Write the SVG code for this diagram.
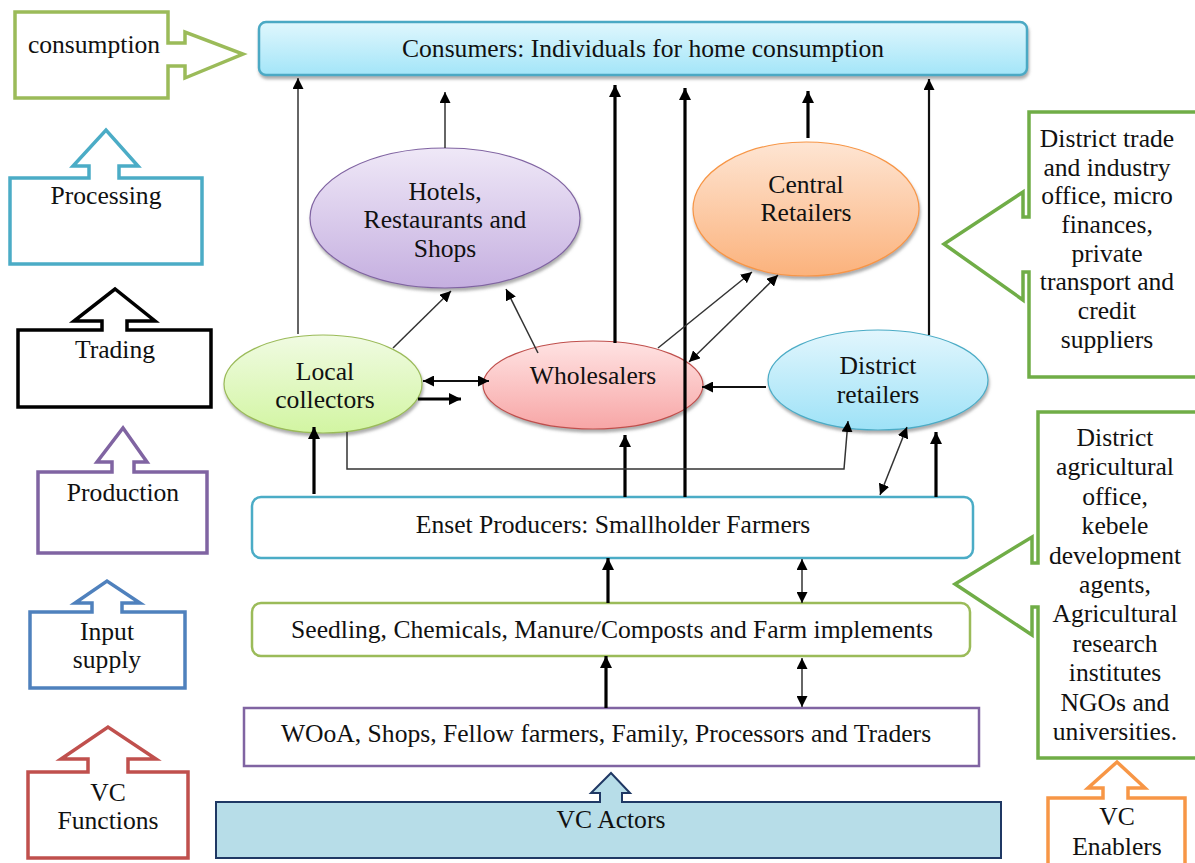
<svg xmlns="http://www.w3.org/2000/svg" width="1195" height="863" viewBox="0 0 1195 863">
<defs>
<style>
text{font-family:"Liberation Serif","Times New Roman",serif;font-size:25.6px;fill:#111;text-anchor:middle}
.fn{fill:#fff;stroke-width:3.5;stroke-linejoin:miter}
.thin{stroke:#333;stroke-width:1.5;fill:none}
.med{stroke:#111;stroke-width:2.2;fill:none}
.thick{stroke:#000;stroke-width:3.2;fill:none}
.ell{stroke-width:1.2}
</style>
<marker id="ah" viewBox="0 0 10 10" refX="10" refY="5" markerWidth="12" markerHeight="12" markerUnits="userSpaceOnUse" orient="auto-start-reverse"><path d="M0,0 L10,5 L0,10 z" fill="#000"/></marker>
<marker id="ahs" viewBox="0 0 10 10" refX="10" refY="5" markerWidth="11" markerHeight="11" markerUnits="userSpaceOnUse" orient="auto-start-reverse"><path d="M0,0 L10,5 L0,10 z" fill="#000"/></marker>
<linearGradient id="gCons" x1="0" y1="0" x2="0" y2="1"><stop offset="0" stop-color="#e0f7fd"/><stop offset="1" stop-color="#a3e5f8"/></linearGradient>
<linearGradient id="gHot" x1="0" y1="0" x2="0" y2="1"><stop offset="0" stop-color="#efe8f7"/><stop offset="1" stop-color="#c5afe0"/></linearGradient>
<linearGradient id="gCen" x1="0" y1="0" x2="0" y2="1"><stop offset="0" stop-color="#fee5d3"/><stop offset="1" stop-color="#fbb27c"/></linearGradient>
<linearGradient id="gWho" x1="0" y1="0" x2="0" y2="1"><stop offset="0" stop-color="#ffe3e3"/><stop offset="1" stop-color="#f7a6a6"/></linearGradient>
<linearGradient id="gLoc" x1="0" y1="0" x2="0" y2="1"><stop offset="0" stop-color="#f0fbe2"/><stop offset="1" stop-color="#d2f5a2"/></linearGradient>
<linearGradient id="gDis" x1="0" y1="0" x2="0" y2="1"><stop offset="0" stop-color="#e2f6fd"/><stop offset="1" stop-color="#9ee2f7"/></linearGradient>
<filter id="sh" x="-10%" y="-10%" width="120%" height="130%"><feDropShadow dx="1" dy="3" stdDeviation="1.5" flood-color="#777" flood-opacity="0.6"/></filter>
</defs>

<!-- Left: VC functions -->
<g id="fn-consumption">
<path class="fn" stroke="#9bbb59" d="M15,12 H168 V43 H185 V32 L243,54 L185,78 V66 H168 V98 H15 Z"/>
<text x="94" y="53">consumption</text>
</g>
<g id="fn-processing">
<path class="fn" stroke="#4bacc6" d="M10,178 H89 V166 H73 L106,130 L138,166 H119 V178 H202 V264 H10 Z"/>
<text x="106" y="204">Processing</text>
</g>
<g id="fn-trading">
<path class="fn" stroke="#000" stroke-width="4" d="M18,330 H102 V321 H74 L115,289 L155,321 H127 V330 H211 V407 H18 Z"/>
<text x="115" y="358">Trading</text>
</g>
<g id="fn-production">
<path class="fn" stroke="#8064a2" d="M38,472 H112 V462 H97 L123,428 L147,462 H134 V472 H207 V553 H38 Z"/>
<text x="123" y="501">Production</text>
</g>
<g id="fn-input">
<path class="fn" stroke="#4f81bd" d="M30,612 H92 V603 H75 L107,581 L140,603 H122 V612 H185 V688 H30 Z"/>
<text x="107" y="640">Input</text>
<text x="107" y="668">supply</text>
</g>
<g id="fn-vcfunctions">
<path class="fn" stroke="#c0504d" d="M28,772 H88 V759 H61 L108,727 L156,759 H128 V772 H188 V858 H28 Z"/>
<text x="108" y="801">VC</text>
<text x="108" y="829">Functions</text>
</g>

<!-- Right: enablers -->
<g id="en-trade">
<path class="fn" stroke="#70ad47" d="M1029,112 H1199 V377 H1029 V272 H1023 V300 L944,244 L1023,192 V217 H1029 Z"/>
<text x="1107" y="147">District trade</text>
<text x="1107" y="176">and industry</text>
<text x="1107" y="204">office, micro</text>
<text x="1107" y="233">finances,</text>
<text x="1107" y="262">private</text>
<text x="1107" y="290">transport and</text>
<text x="1107" y="319">credit</text>
<text x="1107" y="348">suppliers</text>
</g>
<g id="en-agri">
<path class="fn" stroke="#70ad47" d="M1038,412 H1199 V758 H1038 V607 H1032 V635 L955,584 L1032,537 V563 H1038 Z"/>
<text x="1115" y="446">District</text>
<text x="1115" y="475">agricultural</text>
<text x="1115" y="505">office,</text>
<text x="1115" y="534">kebele</text>
<text x="1115" y="564">development</text>
<text x="1115" y="593">agents,</text>
<text x="1115" y="622">Agricultural</text>
<text x="1115" y="652">research</text>
<text x="1115" y="681">institutes</text>
<text x="1115" y="711">NGOs and</text>
<text x="1115" y="740">universities.</text>
</g>
<g id="en-vcenablers">
<path class="fn" stroke="#f79646" d="M1048,798 H1103 V788 H1088 L1117,762 L1145,788 H1128 V798 H1185 V872 H1048 Z"/>
<text x="1117" y="825">VC</text>
<text x="1117" y="855">Enablers</text>
</g>

<!-- VC actors -->
<g id="vc-actors">
<rect x="216" y="802" width="785" height="56" fill="#b7dde8" stroke="#1f3864" stroke-width="2"/>
<path d="M600,803 V793 H591 L611,773 L630,793 H622 V803" fill="#b7dde8" stroke="#1f3864" stroke-width="2"/>
<text x="611" y="828">VC Actors</text>
</g>

<!-- Main nodes -->
<g id="consumers">
<rect x="259" y="22" width="768" height="53" rx="7" fill="url(#gCons)" stroke="#4ba9c4" stroke-width="2.5" filter="url(#sh)"/>
<text x="643" y="57">Consumers: Individuals for home consumption</text>
</g>
<g id="hotels">
<ellipse cx="445" cy="218" rx="135" ry="70" fill="url(#gHot)" stroke="#8064a2" class="ell" filter="url(#sh)"/>
<text x="445" y="200">Hotels,</text>
<text x="445" y="228">Restaurants and</text>
<text x="445" y="257">Shops</text>
</g>
<g id="central-retailers">
<ellipse cx="806" cy="209" rx="113" ry="67" fill="url(#gCen)" stroke="#f79646" class="ell" filter="url(#sh)"/>
<text x="806" y="193">Central</text>
<text x="806" y="221">Retailers</text>
</g>
<g id="local-collectors">
<ellipse cx="323" cy="384" rx="99" ry="49" fill="url(#gLoc)" stroke="#9bbb59" class="ell" filter="url(#sh)"/>
<text x="325" y="380">Local</text>
<text x="325" y="408">collectors</text>
</g>
<g id="wholesalers">
<ellipse cx="593" cy="385" rx="110" ry="44" fill="url(#gWho)" stroke="#c0504d" class="ell" filter="url(#sh)"/>
<text x="593" y="384">Wholesalers</text>
</g>
<g id="district-retailers">
<ellipse cx="878" cy="380" rx="110" ry="50" fill="url(#gDis)" stroke="#4bacc6" class="ell" filter="url(#sh)"/>
<text x="878" y="374">District</text>
<text x="878" y="403">retailers</text>
</g>
<g id="enset-producers">
<rect x="252" y="497" width="721" height="61" rx="9" fill="#fff" stroke="#4bacc6" stroke-width="2.5"/>
<text x="613" y="533">Enset Producers: Smallholder Farmers</text>
</g>
<g id="inputs">
<rect x="252" y="603" width="718" height="53" rx="9" fill="#fff" stroke="#9bbb59" stroke-width="2.5"/>
<text x="612" y="638">Seedling, Chemicals, Manure/Composts and Farm implements</text>
</g>
<g id="suppliers">
<rect x="244" y="708" width="735" height="58" fill="#fff" stroke="#8064a2" stroke-width="2.5"/>
<text x="606" y="742">WOoA, Shops, Fellow farmers, Family, Processors and Traders</text>
</g>

<!-- Connectors -->
<g id="connectors">
<line class="thin" x1="298" y1="334" x2="298" y2="78" marker-end="url(#ahs)"/>
<line class="thin" x1="445" y1="148" x2="445" y2="92" marker-end="url(#ahs)"/>
<line class="thick" x1="615" y1="343" x2="615" y2="85" marker-end="url(#ah)"/>
<line class="thick" x1="685" y1="497" x2="685" y2="88" marker-end="url(#ah)"/>
<line class="thick" x1="808" y1="138" x2="808" y2="91" marker-end="url(#ah)"/>
<line class="med" x1="929" y1="335" x2="929" y2="79" marker-end="url(#ahs)"/>
<line class="thin" x1="393" y1="348" x2="451" y2="291" marker-end="url(#ahs)"/>
<line class="thin" x1="538" y1="353" x2="506" y2="289" marker-end="url(#ahs)"/>
<line class="thin" x1="658" y1="348" x2="752" y2="272" marker-end="url(#ahs)"/>
<line class="thin" x1="689" y1="362" x2="778" y2="275" marker-start="url(#ahs)" marker-end="url(#ahs)"/>
<line class="med" x1="423" y1="381" x2="489" y2="381" marker-start="url(#ahs)" marker-end="url(#ahs)"/>
<line class="thick" x1="418" y1="399" x2="461" y2="399" marker-end="url(#ah)"/>
<line class="med" x1="766" y1="387" x2="702" y2="387" marker-end="url(#ahs)"/>
<line class="thick" x1="314" y1="494" x2="314" y2="427" marker-end="url(#ah)"/>
<line class="thick" x1="625" y1="497" x2="625" y2="435" marker-end="url(#ah)"/>
<polyline class="thin" points="347,432 347,469 844,469 848,421" marker-end="url(#ahs)"/>
<line class="thin" x1="880" y1="495" x2="907" y2="427" marker-start="url(#ahs)" marker-end="url(#ahs)"/>
<line class="thick" x1="936" y1="497" x2="936" y2="432" marker-end="url(#ah)"/>
<line class="thick" x1="608" y1="603" x2="608" y2="558" marker-end="url(#ah)"/>
<line class="thin" x1="802" y1="559" x2="802" y2="603" marker-start="url(#ahs)" marker-end="url(#ahs)"/>
<line class="thick" x1="606" y1="708" x2="606" y2="656" marker-end="url(#ah)"/>
<line class="thin" x1="802" y1="658" x2="802" y2="707" marker-start="url(#ahs)" marker-end="url(#ahs)"/>
</g>
</svg>
